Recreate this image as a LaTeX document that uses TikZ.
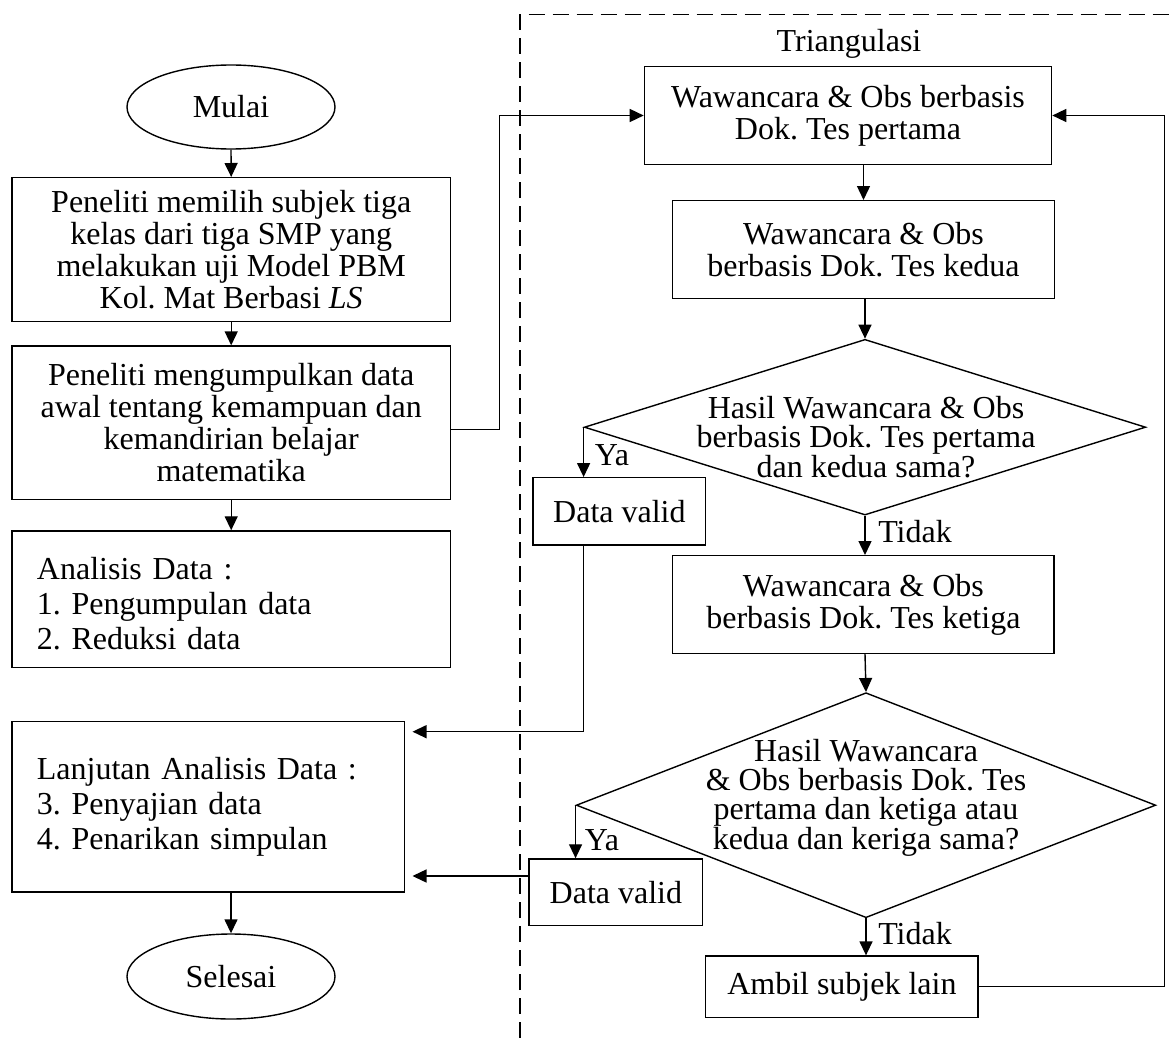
\documentclass[tikz,border=0pt]{standalone}
\usepackage{fontspec}
\setmainfont{Liberation Serif}
\usetikzlibrary{arrows.meta,shapes.geometric,calc}
\frenchspacing
\begin{document}
\begin{tikzpicture}[x=1pt,y=-1pt,
  every node/.style={font=\fontsize{32}{32}\selectfont},
  box/.style={draw, line width=1.4pt, rectangle, inner sep=0pt, align=center},
  term/.style={draw, line width=1.4pt, ellipse, inner sep=0pt},
  dia/.style={draw, line width=1.4pt, diamond, inner sep=0pt},
  lbl/.style={inner sep=0pt},
  arr/.style={line width=1.4pt, -{Triangle[length=14pt,width=13pt]}},
  frame/.style={line width=1.2pt, dash pattern=on 16pt off 8pt}
]
\useasboundingbox (0,0) rectangle (1172,1038);
\draw[frame] (520,1038) -- (520,14.7) -- (1172,14.7);

% left column
\node[term, minimum width=208pt, minimum height=84pt] (mulai) at (231,107) {Mulai};
\node[box, minimum width=438.5pt, minimum height=144pt] (b1) at (231.2,249.7)
  {Peneliti memilih subjek tiga\\kelas dari tiga SMP yang\\melakukan uji Model PBM\\Kol. Mat Berbasi \textit{LS}};
\node[box, minimum width=438.5pt, minimum height=153.3pt] (b2) at (231.2,422.7)
  {Peneliti mengumpulkan data\\awal tentang kemampuan dan\\kemandirian belajar\\matematika};
\node[box, minimum width=438.5pt, minimum height=136.7pt, align=left, text width=388.5pt,
  text height=30pt, font=\fontsize{32}{35}\selectfont] (b3) at (231.2,599.3)
  {Analisis Data :\\1. Pengumpulan data\\2. Reduksi data};
\node[box, minimum width=392.6pt, minimum height=170.3pt, align=left, text width=342.6pt,
  font=\fontsize{32}{35}\selectfont] (b4) at (208.2,806.9)
  {Lanjutan Analisis Data :\\3. Penyajian data\\4. Penarikan simpulan};
\node[term, minimum width=208pt, minimum height=85pt] (selesai) at (231,976.5) {Selesai};

% right column
\node[lbl] (tri) at (849,44) {Triangulasi};
\node[box, minimum width=407.2pt, minimum height=97.6pt] (w1) at (848,115.5)
  {Wawancara \& Obs berbasis\\Dok. Tes pertama};
\node[box, minimum width=381.5pt, minimum height=97.6pt] (w2) at (863.5,249.5)
  {Wawancara \& Obs\\berbasis Dok. Tes kedua};
\node[dia, minimum width=561.4pt, minimum height=175.7pt] (d1) at (865,427.2) {};
\node[lbl, align=center, font=\fontsize{32}{29.5}\selectfont] (d1t) at (866,437)
  {Hasil Wawancara \& Obs\\berbasis Dok. Tes pertama\\dan kedua sama?};
\node[box, minimum width=172.7pt, minimum height=67.3pt] (v1) at (619.4,511.4) {Data valid};
\node[box, minimum width=381.3pt, minimum height=97.6pt] (w3) at (863.4,604.5)
  {Wawancara \& Obs\\berbasis Dok. Tes ketiga};
\node[dia, minimum width=579.5pt, minimum height=225pt] (d2) at (866,805.2) {};
\node[lbl, align=center, font=\fontsize{32}{29}\selectfont] (d2t) at (866,797.5)
  {Hasil Wawancara\\\& Obs berbasis Dok. Tes\\pertama dan ketiga atau\\kedua dan keriga sama?};
\node[box, minimum width=173.7pt, minimum height=66.7pt] (v2) at (615.9,892.3) {Data valid};
\node[box, minimum width=272.3pt, minimum height=61.3pt] (amb) at (841.9,986.7) {Ambil subjek lain};

\node[lbl] (ya1) at (612,455) {Ya};
\node[lbl] (td1) at (915,532) {Tidak};
\node[lbl] (ya2) at (602,840) {Ya};
\node[lbl] (td2) at (915,934) {Tidak};

\coordinate (in1) at (412.5,731.7);
\coordinate (in2) at (412.5,876);

% connectors
\draw[arr] (mulai.south) -- (b1.north);
\draw[arr] (b1.south) -- (b2.north);
\draw[arr] (b2.south) -- (b3.north);
\draw[arr] ($(b2.east)+(0,7)$) -- ++(48.3,0) |- (w1.west);
\draw[arr] (w1.south -| w2.north) -- (w2.north);
\draw[arr] (d1.north |- w2.south) -- (d1.north);
\draw[arr] (d1.west) -- (d1.west |- v1.north);
\draw[arr] (d1.south) -- (d1.south |- w3.north);
\draw[arr] (d1.north |- w3.south) -- (d2.north);
\draw[arr] (d2.west) -- (d2.west |- v2.north);
\draw[arr] (d2.south) -- (d2.south |- amb.north);
\draw[arr] (amb.east) -- ++(186,0) |- (w1.east);
\draw[arr] (d1.west |- v1.south) |- (in1);
\draw[arr] (v2.west |- in2) -- (in2);
\draw[arr] (b4.south -| selesai.north) -- (selesai.north);
\end{tikzpicture}
\end{document}
